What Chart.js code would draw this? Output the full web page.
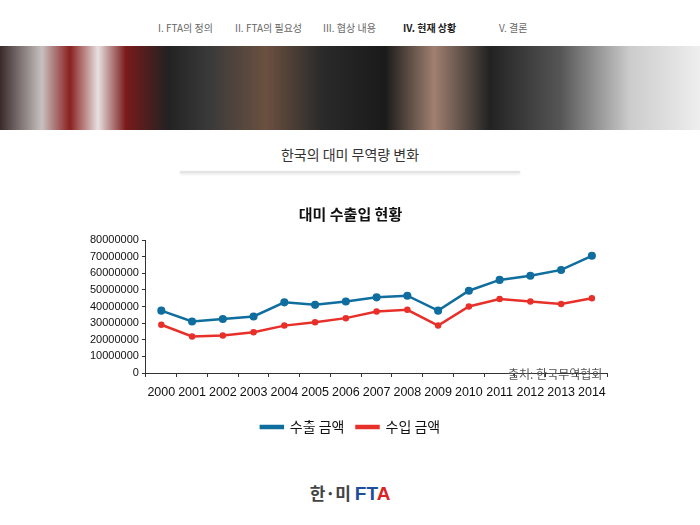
<!DOCTYPE html>
<html><head><meta charset="utf-8">
<script src="https://cdn.jsdelivr.net/npm/chart.js@4"></script>
<style>
body{margin:0;width:700px;height:525px;background:#fff;font-family:"Noto Sans CJK KR","Liberation Sans",sans-serif;position:relative;overflow:hidden}
.nav{position:absolute;top:20px;font-size:10px;color:#666}
.banner{position:absolute;top:46px;left:0;width:700px;height:84px;background:linear-gradient(90deg,#3a2a2a 0%,#c8c0c0 6%,#8a2020 10%,#e8e0e0 14%,#7a1a1a 18%,#222 24%,#3a3a3a 30%,#6b5040 38%,#2a2a2a 46%,#1a1a1a 55%,#a08070 62%,#222 70%,#555 80%,#ccc 90%,#eee 100%)}
#wrap{position:absolute;left:87px;top:203px;width:527px;height:241px}
</style></head><body>
<div class="nav" style="left:158px">I. FTA의 정의</div>
<div class="nav" style="left:235px">II. FTA의 필요성</div>
<div class="nav" style="left:323px">III. 협상 내용</div>
<div class="nav" style="left:403px;color:#222;font-weight:bold">IV. 현재 상황</div>
<div class="nav" style="left:499px">V. 결론</div>
<div class="banner"></div>
<div style="position:absolute;top:144px;left:0;width:700px;text-align:center;font-size:14px;color:#333">한국의 대미 무역량 변화</div>
<div style="position:absolute;top:171px;left:180px;width:340px;height:2px;background:#e4e4e4;box-shadow:0 1px 3px #ddd"></div>
<div id="wrap"><canvas id="c"></canvas></div>
<div style="position:absolute;left:508px;top:365px;font-size:12px;color:#555">출처: 한국무역협회</div>
<div style="position:absolute;top:480px;left:0;width:700px;text-align:center;font-size:17px;font-weight:bold;color:#444">한·미 <span style="color:#1f4e9a;font-family:'Liberation Sans';font-size:19px">FT<span style="color:#d22">A</span></span></div>
<script>
const years=["2000","2001","2002","2003","2004","2005","2006","2007","2008","2009","2010","2011","2012","2013","2014"];
const exportsV=[37500000,31000000,32500000,34000000,42500000,41000000,43000000,45500000,46500000,37500000,49500000,56000000,58500000,62000000,70500000];
const importsV=[29000000,22000000,22500000,24500000,28500000,30500000,33000000,37000000,38000000,28500000,40000000,44500000,43000000,41500000,45000000];
const yTicks=[0,10000000,20000000,30000000,40000000,50000000,60000000,70000000,80000000];
Chart.defaults.font.family="'Liberation Sans',Arial,sans-serif";
Chart.defaults.color="#111";
new Chart(document.getElementById('c'),{type:'line',
data:{labels:years,datasets:[
{label:'수출 금액',data:exportsV,borderColor:'#0f6e9e',backgroundColor:'#0f6e9e',borderWidth:2.5,pointRadius:2.8,tension:0},
{label:'수입 금액',data:importsV,borderColor:'#e8302a',backgroundColor:'#e8302a',borderWidth:2.5,pointRadius:2,tension:0}]},
options:{responsive:true,maintainAspectRatio:false,animation:false,
plugins:{title:{display:true,text:'대미 수출입 현황',font:{size:15,weight:'bold',family:"'Noto Sans CJK KR'"},padding:{top:2,bottom:17},color:'#111'},
legend:{position:'bottom',labels:{boxWidth:22,boxHeight:2,font:{size:14,family:"'Noto Sans CJK KR'"},padding:12}}},
scales:{x:{offset:true,grid:{display:true,drawOnChartArea:false,drawTicks:true,tickLength:4,offset:true,color:'#333'},border:{color:'#333'},ticks:{font:{size:12.5},padding:8,maxRotation:0,autoSkip:false}},
y:{min:0,max:80000000,afterBuildTicks:a=>{a.ticks=yTicks.map(v=>({value:v}))},grid:{display:true,drawOnChartArea:false,tickLength:4,color:'#333'},border:{color:'#333'},ticks:{font:{size:11},padding:3,autoSkip:false,callback:v=>String(v)}}}}});
</script>
</body></html>
